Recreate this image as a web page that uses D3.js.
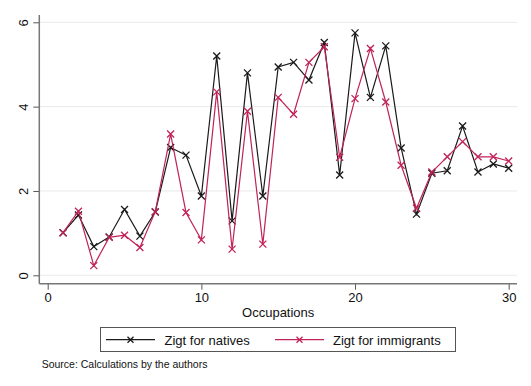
<!DOCTYPE html>
<html><head><meta charset="utf-8">
<script src="https://cdn.jsdelivr.net/npm/d3@7"></script>
<style>body{margin:0;background:#fff}svg{display:block}text{font-family:"Liberation Sans",Arial,Helvetica,sans-serif}</style>
</head><body><svg id="c" width="531" height="386"></svg>
<script>
const occupations = d3.range(1, 31);
const natives = [1.01,1.43,0.68,0.91,1.56,0.93,1.50,3.03,2.85,1.88,5.20,1.29,4.80,1.88,4.94,5.05,4.63,5.52,2.38,5.75,4.22,5.44,3.02,1.45,2.42,2.48,3.54,2.45,2.64,2.54];
const immigrants = [1.01,1.52,0.23,0.90,0.95,0.66,1.51,3.35,1.49,0.84,4.35,0.62,3.89,0.74,4.22,3.82,5.05,5.42,2.80,4.19,5.38,4.11,2.61,1.59,2.45,2.81,3.17,2.81,2.81,2.71];
const xTicks = [0, 10, 20, 30];
const yTicks = [0, 2, 4, 6];
const seriesNames = ["Zigt for natives", "Zigt for immigrants"];
const seriesColors = ["#1a1a1a", "#c0235a"];

(function () {
const svg = d3.select("#c");
const x = d3.scaleLinear().domain([0, 30]).range([47.7, 508.7]);
const y = d3.scaleLinear().domain([0, 6]).range([275.3, 22.3]);
const pLeft = 39.3, pRight = 517, pTop = 15, pBottom = 283.7;

// gridlines
svg.append("g").selectAll("line").data(yTicks).join("line")
  .attr("x1", pLeft).attr("x2", pRight)
  .attr("y1", d => y(d)).attr("y2", d => y(d))
  .attr("stroke", "#eaeaea").attr("stroke-width", 1);

// y axis
const yAxis = svg.append("g").attr("transform", `translate(${pLeft},0)`)
  .call(d3.axisLeft(y).tickValues(yTicks).tickSize(6).tickPadding(0).tickFormat(d3.format("d")));
yAxis.select(".domain").remove();
yAxis.selectAll(".tick line").attr("stroke", "#555").attr("stroke-width", 1);
yAxis.selectAll(".tick text").attr("x", 0).attr("dy", 0)
  .attr("transform", "translate(-11,0) rotate(-90)")
  .attr("text-anchor", "middle").attr("font-size", 13).attr("fill", "#111")
  .attr("font-family", '"Liberation Sans",Arial,sans-serif');
svg.append("line").attr("x1", pLeft).attr("x2", pLeft).attr("y1", pTop).attr("y2", pBottom)
  .attr("stroke", "#777").attr("stroke-width", 1.5);

// x axis
const xAxis = svg.append("g").attr("transform", `translate(0,${pBottom})`)
  .call(d3.axisBottom(x).tickValues(xTicks).tickSize(6).tickPadding(3).tickFormat(d3.format("d")));
xAxis.select(".domain").remove();
xAxis.selectAll(".tick line").attr("stroke", "#555").attr("stroke-width", 1);
xAxis.selectAll(".tick text").attr("font-size", 13).attr("fill", "#111")
  .attr("font-family", '"Liberation Sans",Arial,sans-serif');
svg.append("line").attr("x1", pLeft).attr("x2", pRight).attr("y1", pBottom).attr("y2", pBottom)
  .attr("stroke", "#777").attr("stroke-width", 1.5);

svg.append("text").attr("x", x(15)).attr("y", 317).attr("text-anchor", "middle")
  .attr("font-size", 13).attr("fill", "#111").text("Occupations");

const line = d3.line().x((d, i) => x(occupations[i])).y(d => y(d));
function cross(g, cx, cy, color, r) {
  g.append("path").attr("d", `M${cx-r},${cy-r}L${cx+r},${cy+r}M${cx-r},${cy+r}L${cx+r},${cy-r}`)
    .attr("stroke", color).attr("stroke-width", 1.3).attr("fill", "none");
}
[natives, immigrants].forEach((s, k) => {
  const g = svg.append("g");
  g.append("path").datum(s).attr("d", line).attr("fill", "none")
    .attr("stroke", seriesColors[k]).attr("stroke-width", 1.2);
  s.forEach((v, i) => cross(g, x(occupations[i]), y(v), seriesColors[k], 3.5));
});

// legend
const lg = svg.append("g");
lg.append("rect").attr("x", 100.5).attr("y", 327.5).attr("width", 355).attr("height", 24)
  .attr("fill", "#fff").attr("stroke", "#555").attr("stroke-width", 1);
const legendItems = [{x0: 106, tx: 164.5}, {x0: 275, tx: 333}];
legendItems.forEach((it, k) => {
  lg.append("line").attr("x1", it.x0).attr("x2", it.x0 + 49).attr("y1", 339.7).attr("y2", 339.7)
    .attr("stroke", seriesColors[k]).attr("stroke-width", 1.2);
  cross(lg, it.x0 + 24.5, 339.7, seriesColors[k], 3);
  lg.append("text").attr("x", it.tx).attr("y", 344.5).attr("font-size", 13).attr("fill", "#111")
    .text(seriesNames[k]);
});

svg.append("text").attr("x", 41.7).attr("y", 368).attr("font-size", 10.5).attr("fill", "#111")
  .text("Source: Calculations by the authors");
})();
</script></body></html>
